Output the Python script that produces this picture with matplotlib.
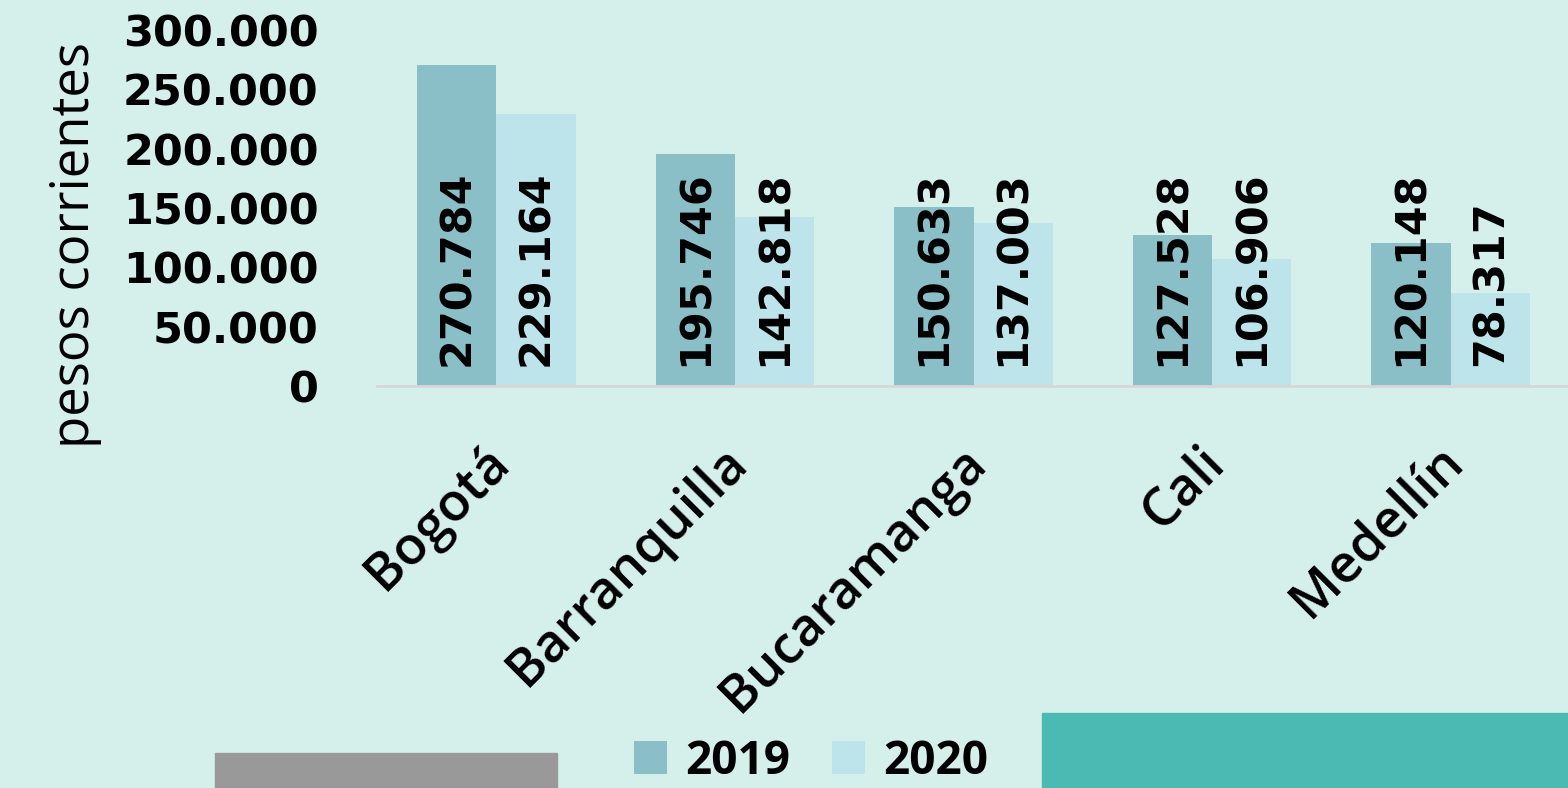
import matplotlib
matplotlib.use("Agg")
import matplotlib.pyplot as plt
from matplotlib.patches import Rectangle
import matplotlib.transforms as mtransforms
import numpy as np

plt.rcParams['font.family'] = ['Open Sans', 'DejaVu Sans']

cities = ["Bogotá", "Barranquilla", "Bucaramanga", "Cali", "Medellín"]
values_2019 = [270784, 195746, 150633, 127528, 120148]
values_2020 = [229164, 142818, 137003, 106906, 78317]
labels_2019 = ["270.784", "195.746", "150.633", "127.528", "120.148"]
labels_2020 = ["229.164", "142.818", "137.003", "106.906", "78.317"]
yticks = [0, 50000, 100000, 150000, 200000, 250000, 300000]
ytick_labels = ["0", "50.000", "100.000", "150.000", "200.000", "250.000", "300.000"]

bg = "#d5efea"
c19 = "#8bbfc7"
c20 = "#bde4ea"
num_font = ['DejaVu Sans']

W, H = 1568, 788
fig = plt.figure(figsize=(W / 100, H / 100), dpi=100, facecolor=bg)
ax = fig.add_axes([377 / W, 1 - 386 / H, (1570 - 377) / W, (386 - 30) / H])
ax.set_facecolor(bg)

x = np.arange(len(cities))
bw = 0.332
ax.bar(x - bw / 2, values_2019, bw, color=c19, label="2019")
ax.bar(x + bw / 2, values_2020, bw, color=c20, label="2020")

fs_num = 31
for i in range(len(cities)):
    ax.text(x[i] - bw / 2, 17000, labels_2019[i], rotation=90, ha='center', va='bottom',
            fontsize=fs_num, fontweight='bold', family=num_font, color='black')
    ax.text(x[i] + bw / 2, 17000, labels_2020[i], rotation=90, ha='center', va='bottom',
            fontsize=fs_num, fontweight='bold', family=num_font, color='black')

ax.set_xlim(-0.5, 4.5)
ax.set_ylim(0, 300000)
ax.set_yticks(yticks)
ax.set_yticklabels(ytick_labels, fontsize=fs_num, fontweight='bold', family=num_font)
ax.tick_params(axis='y', length=0, pad=42)
ax.set_xticks(x)
ax.set_xticklabels(cities, rotation=45, ha='right', rotation_mode='anchor',
                   fontsize=38, fontweight='semibold')
ax.tick_params(axis='x', length=0, pad=36)
offset = mtransforms.ScaledTranslation(-14 / 100, 0, fig.dpi_scale_trans)
for lab in ax.get_xticklabels():
    lab.set_transform(lab.get_transform() + offset)
for s in ['left', 'right', 'top']:
    ax.spines[s].set_visible(False)
ax.spines['bottom'].set_color('#d9d6d6')
ax.spines['bottom'].set_linewidth(2)

fig.text(75 / W, 1 - 245 / H, "pesos corrientes", rotation=90, ha='center', va='center',
         fontsize=38, fontweight='medium')

leg = fig.legend(loc='center', bbox_to_anchor=(811 / W, 1 - 761 / H), ncol=2,
                 frameon=False, handlelength=0.72, handleheight=0.72,
                 handletextpad=0.4, columnspacing=0.9,
                 prop={'size': 33, 'weight': 'bold'})

fig.patches.append(Rectangle((215 / W, 0), (557 - 215) / W, (788 - 753) / H,
                             transform=fig.transFigure, color="#999999", zorder=5))
fig.patches.append(Rectangle((1042 / W, 0), (1568 - 1042) / W, (788 - 713) / H,
                             transform=fig.transFigure, color="#4bbab3", zorder=5))

fig.savefig("out.png", dpi=100, facecolor=bg)
